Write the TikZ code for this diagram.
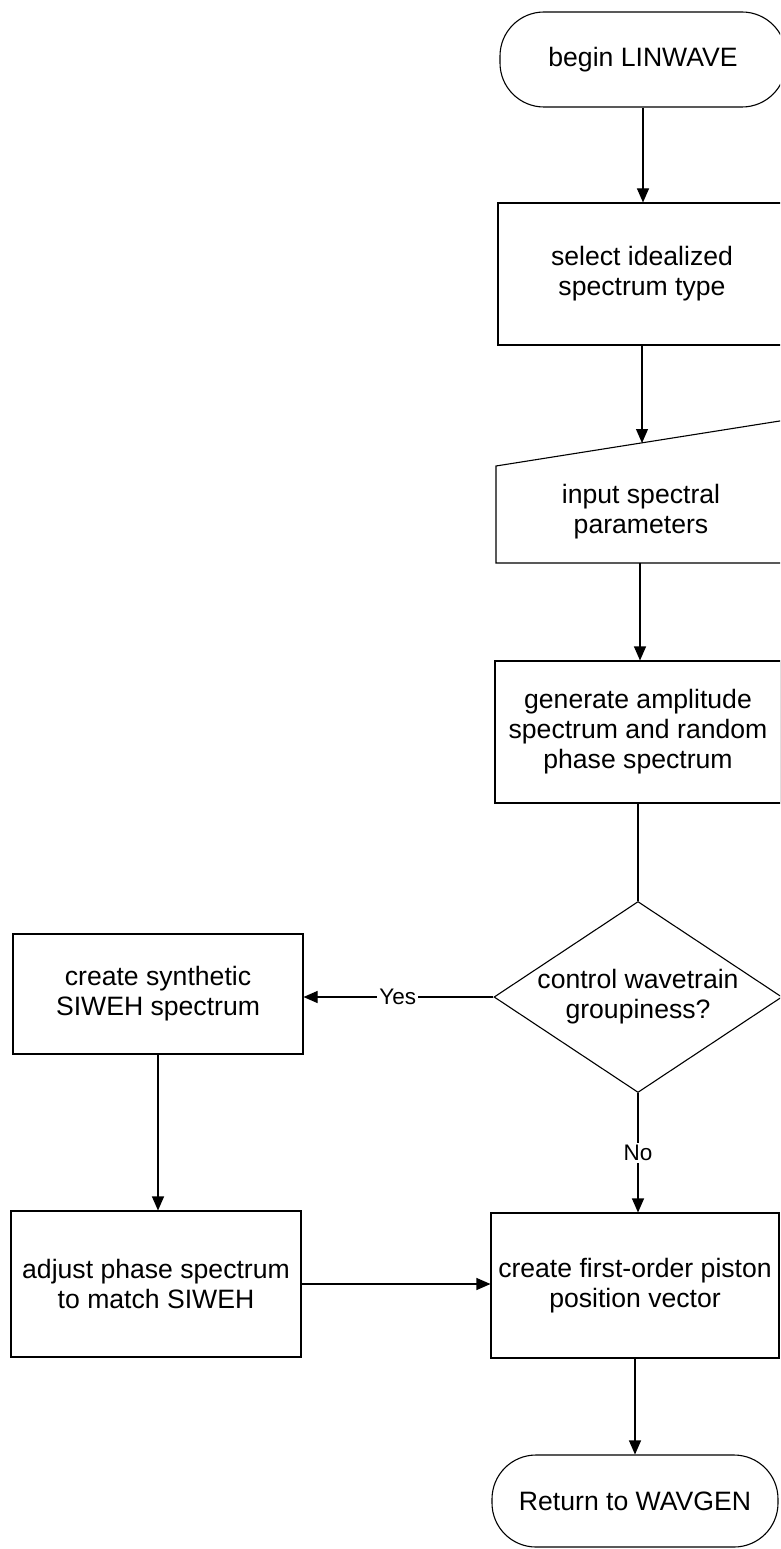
\documentclass[tikz,border=0pt]{standalone}
\usepackage{fontspec}
\setmainfont{Liberation Sans}
\usetikzlibrary{arrows.meta,shapes.geometric}
\begin{document}
\begin{tikzpicture}[x=1pt,y=1pt,
  line width=1.1pt,
  every node/.style={font=\fontsize{26.6}{30}\selectfont, align=center, inner sep=0pt},
  procbox/.style={draw, rectangle, minimum width=#1},
  term/.style={draw, rectangle, rounded corners=44pt, minimum width=286pt, minimum height=#1},
  arr/.style={-{Triangle[length=14pt,width=12pt]}},
  lbl/.style={font=\fontsize{22.5}{26}\selectfont, fill=white, inner sep=2pt}
]
\useasboundingbox (0,0) rectangle (780,-1549);
\clip (0,0) rectangle (780,-1549);

% right column
\node[term=95pt] (begin) at (643,-59.5) {begin LINWAVE};
\node[procbox=288pt, minimum height=142pt] (select) at (642,-274) {select idealized\\spectrum type};

% manual input shape
\coordinate (inptop) at (642,-443);
\coordinate (inpbot) at (640,-563);
\draw (496,-466) -- (786,-420) -- (786,-563) -- (496,-563) -- cycle;
\node (inp) at (641,-512) {input spectral\\parameters};

\node[procbox=286pt, minimum height=142pt] (gen) at (638,-732) {generate amplitude\\spectrum and random\\phase spectrum};

\node[draw, diamond, minimum width=288pt, minimum height=191pt] (dia) at (638,-997) {};
\node (diatext) at (dia.center) {control wavetrain\\groupiness?};

\node[procbox=288pt, minimum height=145pt] (piston) at (635,-1285.5) {create first-order piston\\position vector};
\node[term=92pt] (ret) at (635,-1501) {Return to WAVGEN};

% left column
\node[procbox=290pt, minimum height=120pt] (synth) at (158,-994) {create synthetic\\SIWEH spectrum};
\node[procbox=290pt, minimum height=146pt] (adjust) at (156,-1284) {adjust phase spectrum\\to match SIWEH};

% connectors
\draw[arr] (begin.south) -- (begin.south |- select.north);
\draw[arr] (select.south) -- (inptop);
\draw[arr] (inpbot) -- (inpbot |- gen.north);
\draw (gen.south) -- (gen.south |- dia.north);
\draw[arr] (dia.west) -- node[lbl, pos=0.504] {Yes} (dia.west -| synth.east);
\draw[arr] (dia.south) -- node[lbl, pos=0.5] {No} (dia.south |- piston.north);
\draw[arr] (synth.south) -- (synth.south |- adjust.north);
\draw[arr] (adjust.east) -- (adjust.east -| piston.west);
\draw[arr] (piston.south) -- (piston.south |- ret.north);
\end{tikzpicture}
\end{document}
